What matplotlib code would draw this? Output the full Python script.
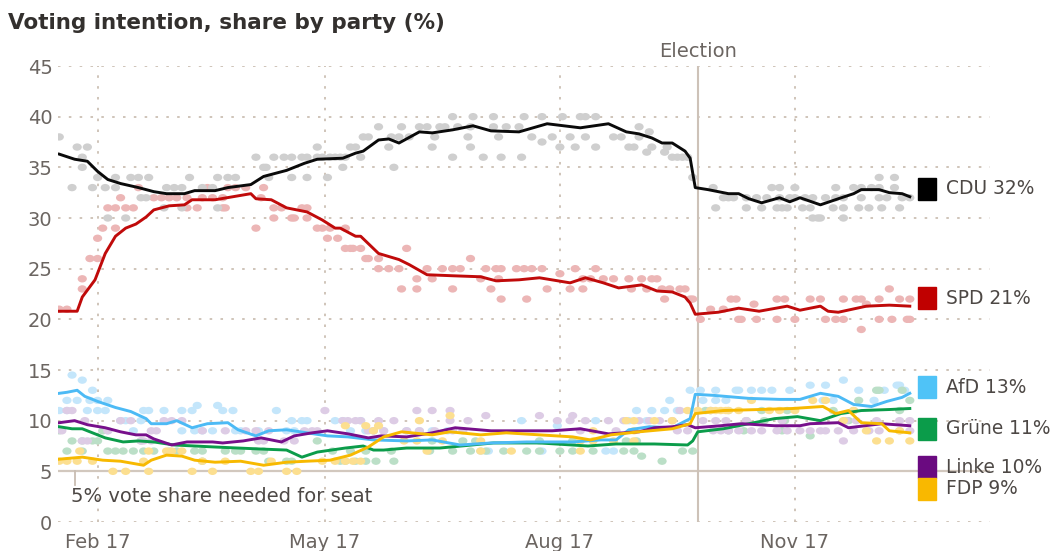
import numpy as np
import matplotlib
matplotlib.use("Agg")
import matplotlib.pyplot as plt
import matplotlib.dates as mdates
import matplotlib.transforms as mtransforms
from matplotlib.path import Path
from matplotlib.patches import Rectangle

# ---------------- data (days since 1 Jan 2017) ----------------
cdu_days = [16,22,27,31,35,40,47,53,58,65,69,77,82,91,96,105,112,117,127,132,135,141,145,149,157,162,170,178,185,196,207,220,231,238,243,248,252,256,261,263,265,270,278,282,286,291,298,302,306,314,321,327,330,337,341,346,349]
cdu_line = [36.3,35.8,35.6,34.6,33.8,33.4,33.0,32.6,32.4,32.4,32.7,32.7,33.0,33.3,34.1,34.7,35.4,35.8,35.9,36.4,36.6,37.7,37.8,37.4,38.5,38.4,38.7,39.1,38.6,38.5,39.3,38.9,39.3,38.5,38.3,37.9,37.4,37.4,36.6,35.9,33.0,32.8,32.4,32.4,31.9,31.5,32.0,31.6,32.0,31.3,31.9,32.4,32.8,32.8,32.5,32.4,32.1]

spd_days = [16,23,25,30,34,38,42,46,50,53,59,65,68,77,84,91,93,99,105,113,119,124,126,132,134,141,149,153,160,170,181,187,196,204,216,222,229,235,244,250,256,259,261,263,265,274,282,290,301,306,314,317,321,332,341,349]
spd_line = [20.8,20.8,22.2,23.9,26.5,28.2,29.0,29.4,30.1,30.8,31.2,31.3,31.8,31.8,32.1,32.4,31.9,31.8,31.0,30.6,29.8,29.0,29.0,28.2,28.2,26.5,25.9,25.4,24.4,24.3,24.2,23.8,23.9,24.1,23.6,24.1,23.6,23.1,23.4,22.8,22.7,22.4,22.2,21.6,20.5,20.7,21.1,20.8,21.3,20.9,21.3,20.8,20.7,21.3,21.4,21.3]

afd_days = [16,19,23,26,31,38,44,50,52,58,62,68,74,82,86,93,98,105,113,121,129,139,152,162,173,185,199,217,228,234,239,247,256,263,265,272,286,298,306,314,321,327,334,340,346,349]
afd_line = [12.7,12.8,13.0,12.4,11.9,11.3,10.9,10.2,9.7,9.7,10.0,9.3,9.7,9.8,9.1,8.5,9.0,9.1,8.8,8.5,8.4,8.1,8.0,8.1,7.6,7.8,7.9,7.9,8.1,8.1,9.1,9.4,9.3,10.2,12.6,12.5,12.2,12.1,12.1,12.7,12.4,11.6,11.4,11.9,12.3,12.7]

linke_days = [16,22,27,34,40,46,50,53,60,66,76,80,88,95,103,108,115,121,129,137,142,152,162,171,185,198,209,220,231,243,249,256,262,265,275,283,296,306,310,321,325,338,349]
linke_line = [9.8,10.0,9.6,9.3,8.9,8.6,8.6,8.2,7.6,7.9,7.9,7.8,8.0,8.3,7.9,8.5,8.8,9.0,8.7,8.3,8.5,8.4,8.8,9.3,9.0,9.0,9.0,9.2,8.7,8.9,9.3,9.4,9.6,9.3,9.5,9.7,9.5,9.5,9.7,9.8,9.3,9.7,9.5]

gruene_days = [16,21,25,29,34,41,47,53,61,69,77,86,95,105,111,117,128,135,139,143,152,165,186,204,223,234,249,262,264,266,276,286,296,305,314,322,330,341,349]
gruene_line = [9.4,9.2,9.2,8.8,8.3,7.9,8.0,7.9,7.6,7.5,7.4,7.3,7.2,7.1,6.4,6.9,7.3,7.5,7.1,7.1,7.3,7.3,7.8,7.8,7.5,7.7,7.7,7.6,8.0,8.9,9.2,9.7,10.2,10.4,10.0,10.7,11.0,11.1,11.2]

fdp_days = [16,25,33,40,49,52,58,64,69,77,87,96,105,113,122,130,137,143,150,162,169,181,191,204,217,224,232,243,256,263,265,276,290,303,315,320,325,330,338,341,349]
fdp_line = [6.2,6.4,6.1,6.0,5.6,6.1,6.6,6.5,6.1,5.9,6.0,5.6,5.9,6.0,6.1,6.6,7.4,8.4,8.9,8.6,8.9,8.6,8.8,8.6,8.4,8.1,8.6,8.9,9.2,9.7,10.7,11.0,11.1,11.2,11.4,10.7,11.0,9.8,9.7,9.0,8.8]

# individual polls (day, value)
cdu_polls = [(16,38),(23,37),(27,37),(25,36),(25,35),(21,33),(29,33),(31,34),(34,33),(38,34),(38,33),(35,30),(42,30),(44,34),(47,34),(51,34),(48,32),(50,32),(57,31),(58,33),(61,33),(64,33),(64,31),(67,34),(72,33),(76,33),(78,34),(82,34),(85,34),(78,31),(93,36),(96,35),(97,35),(100,36),(98,34),(104,36),(107,36),(111,36),(113,36),(117,36),(119,36),(124,36),(107,34),(113,34),(121,34),(117,37),(130,37),(127,35),
             (170,40),(178,40),(186,40),(198,40),(205,40),(213,40),(220,40),(222,40),(226,40),
             (141,39),(150,39),(157,39),(160,39),(165,39),(167,39),(172,39),(177,39),(186,39),(191,39),(196,39),
             (135,38),(137,38),(146,38),(149,38),(153,38),(163,38),(176,38),(188,38),(201,38),(209,38),(216,38),(222,38),(233,38),(236,38),(243,38),(205,37.5),(247,38.5),
             (132,37),(145,37),(162,37),(177,37),(212,37),(218,37),(226,37),(239,37),(241,37),(248,37),(254,37),(246,36.5),(253,36.5),
             (122,36),(126,36),(128,36),(134,36),(170,36),(182,36),(189,36),(197,36),(256,36),(258,36),(260,36),(262,36),
             (147,35),(264,34),(243,39),
             (272,33),(295,33),(298,33),(304,33),(320,33),(327,33),(330,33),(334,33),(337,33),(343,33),(337,34),(343,34),
             (276,32),(278,32),(280,32),(285,32),(289,32),(293,32),(298,32),(302,32),(304,32),(308,32),(311,32),(316,32),(320,32),(323,32),(330,32),(337,32),(340,32),(346,32),(349,32),
             (273,31),(285,31),(291,31),(297,31),(299,31),(301,31),(307,31),(310,31),(319,31),(323,31),(329,31),(333,31),(338,31),(345,31),
             (311,30),(313,30),(314,30),(323,30)]

spd_polls = [(16,21),(19,21),(25,23),(25,24),(28,26),(31,26),(31,28),(33,29),(38,29),(35,31),(38,31),(40,32),(42,31),(45,31),(47,33),(53,32),(56,32),(59,32),(62,32),(66,32),(72,32),(76,32),(80,32),(66,31),(70,31),(80,31),(81,31),(74,33),(82,33),(85,33),(89,33),(93,29),(95,32),(96,33),(100,31),(103,31),(100,30),(107,30),(111,31),(113,31),(108,30),(113,30),(117,29),(119,29),(121,28),(125,28),(128,29),(128,27),(130,27),
             (122,29),(131,27),(134,27),(136,26),(137,26),(141,26),(141,25),(145,25),(149,25),(152,27),(150,23),(156,23),(156,24),(162,24),(160,25),(166,25),(170,25),(173,25),(170,23),(177,26),(183,25),(187,25),(189,25),(195,25),(198,25),(201,25),(205,25),(181,24),(188,24),(185,23),(189,22),(199,22),(207,23),(216,23),(221,23),(212,24.5),(218,25),(226,25),(221,24),(224,24),(229,24),(233,24),(239,24),(244,24),(248,24),(250,24),(240,23),(246,23),(252,23),(255,23),(259,23),(261,23),(253,22),
             (263,22),(264,22),(267,20),(271,21),(276,21),(279,22),(281,22),(282,20),(283,20),(288,21.5),(289,20),(297,22),(300,22),(297,20),(304,20),(310,22),(314,22),(316,20),(320,20),(323,22),(328,22),(330,22),(323,20),(330,19),(332,21.5),(337,22),(341,23),(345,22),(349,22),(337,20),(342,20),(348,20),(349,20)]

afd_polls = [(21,14.5),(25,14),(19,12),(23,12),(29,13),(16,11),(19,11),(28,12),(31,12),(35,12),(27,11),(31,11),(34,11),(49,11),(51,11),(57,11),(64,11),(68,11),(70,11.5),(78,11.5),(80,11),(84,11),(101,11),(40,10),(42,10),(48,10),(35,9),(45,9),(64,9),(69,9),(72,9),(76,9),(85,9),(87,9),(94,9),(107,10),(111,10),(113,10),(105,9),(108,9),(124,10),(130,9),(136,9),
             (127,10),(134,10),(139,9),(143,9),(152,9),(157,9),(162,9),(168,9),(197,10),(211,9.5),(181,7),(184,7),(205,7),(226,10),(230,7),(233,7),(239,10),(246,10),(242,11),(248,11),(253,11),(258,11),(255,12),(263,13),
             (267,13),(273,13),(281,13),(268,12),(273,12),(277,12),(282,13),(287,13),(291,13),(295,13),(302,13),(310,13.5),(316,13.5),(323,14),(329,13),(335,12),(339,13),(345,13.5),(347,13),(315,12),(319,12),(344,13.5)]

linke_polls = [(19,11),(21,11),(17,9),(26,10),(25,8),(27,8),(35,9),(40,10),(44,10),(57,10),(60,10),(64,10),(52,9),(54,9),(48,8),(49,8),(52,8),(72,9),(81,9),(89,9),(93,9),(98,9),(94,8),(96,8),(104,8),(108,8),(112,9),(115,9),(117,9),(120,11),(127,10),(129,10),(132,10),(134,10),(137,9),(139,9),(143,9),
               (156,11),(162,11),(169,11),(169,10),(176,10),(183,10.5),(141,10),(147,10),(152,9),(157,9),(163,9),(170,9),(174,9),(204,10.5),(211,10),(216,10),(217,10.5),(222,10),(231,10),(237,10),(243,10),(247,10),(251,10),(256,10),(258,9),(262,9),(259,11),(271,11),(220,9),(234,9),(275,9),(278,9),
               (268,10),(273,10),(277,10),(272,9),(282,9),(287,9),(291,9),(297,9),(301,9),(306,9),(310,9),(314,9),(316,9),(321,9),(327,9),(333,9),(337,9),(345,9),(349,9),(324,10),(328,10),(336,10),(345,10),(349,10),(323,8),(285,10),(299,10)]

gruene_polls = [(16,9),(21,8),(25,8),(29,8),(19,7),(25,7),(31,8),(33,9),(48,8),(35,7),(38,7),(41,7),(45,7),(49,7),(53,7),(59,7),(62,7),(69,7),(72,7),(81,7),(85,7),(87,7),(72,6),(93,7),(96,7),(98,6),(105,6),(107,6),(117,8),(123,7),(128,6),(132,6),(140,6),
                (130,7),(136,7),(146,7),(126,6),(136,6),(147,6),(161,7),(170,7),(177,7),(183,7),(190,7),(162,8),(174,8),(179,8),(199,7),(204,7),(212,7),(217,7),(225,7),(237,7),(241,7),(204,8),(217,8),(238,8),(242,8),(244,6.5),(252,6),(260,7),(264,7),
                (269,11),(271,11),(278,9),(278,11),(284,9),(299,9),(310,8.5),(329,12),(337,13),(349,12),(345,11),(291,11),(301,11),(319,11),(327,11),(325,10),(336,13),(346,13),(292,10),(300,10),(285,10)]

fdp_polls = [(16,6),(19,6),(24,7),(23,6),(29,6),(37,5),(42,5),(49,6),(51,5),(51,7),(58,7),(60,7),(64,7),(68,5),(72,6),(76,5),(81,6),(91,5),(94,5),(99,6),(105,5),(109,5),(119,6),(124,6),(139,9),(141,9.5),
             (128,9.5),(136,9.5),(157,10),(169,10.5),(128,6),(131,6),(134,6),(151,8),(156,8),(166,8),(181,8),(160,7),(181,7),(193,7),(220,7),(238,10),(241,10),(249,10),(256,10),(220,8),(225,8),(233,8),(241,8),(225,9),(241,9),(262,11),(266,11),
             (271,11),(273,11),(275,11),(277,11),(282,11),(278,11),(294,11),(311,12),(316,12),(323,10),(327,11),(332,9),(336,8),(341,8),(349,8),(345,9),(287,12),(298,11),(304,11)]

parties = ["CDU", "SPD", "AfD", "Grüne", "Linke", "FDP"]
latest = [32, 21, 13, 11, 10, 9]
label_y = [32.9, 22.1, 13.3, 9.2, 5.4, 3.3]

month_ticks = ["2017-02-01", "2017-05-01", "2017-08-01", "2017-11-01"]
month_labels = ["Feb 17", "May 17", "Aug 17", "Nov 17"]
y_ticks = [0, 5, 10, 15, 20, 25, 30, 35, 40, 45]
election_date = "2017-09-24"

# ---------------- styling ----------------
line_colors = {"CDU": "#0a0a0a", "SPD": "#c00a0a", "AfD": "#4cbaf5", "Grüne": "#0b9c4a", "Linke": "#770f8b", "FDP": "#f7b900"}
dot_colors = {"CDU": "#cfcfcf", "SPD": "#ecb6b6", "AfD": "#c4e6fb", "Grüne": "#bbdfc7", "Linke": "#ddcce5", "FDP": "#fcdf90"}
square_colors = {"CDU": "#000000", "SPD": "#c00000", "AfD": "#4fc3f7", "Grüne": "#0b9c4a", "Linke": "#6a0a80", "FDP": "#f9b800"}

BASE = np.datetime64("2017-01-01")


def to_dates(days):
    return BASE + np.array(days, dtype=float).round().astype("timedelta64[D]")


plt.rcParams["font.family"] = ["DejaVu Sans"]
fig = plt.figure(figsize=(10.54, 5.51), dpi=100)
ax = fig.add_axes([58 / 1054, 1 - 522 / 551, (990 - 58) / 1054, (522 - 66) / 551])

# ellipse marker (dots appear slightly wider than tall)
circ = Path.unit_circle()
ell = Path(circ.vertices * np.array([1.25, 1.0]), circ.codes)

series = {
    "CDU": (cdu_days, cdu_line, cdu_polls),
    "SPD": (spd_days, spd_line, spd_polls),
    "AfD": (afd_days, afd_line, afd_polls),
    "Grüne": (gruene_days, gruene_line, gruene_polls),
    "Linke": (linke_days, linke_line, linke_polls),
    "FDP": (fdp_days, fdp_line, fdp_polls),
}

# dots
for name in ["AfD", "Grüne", "Linke", "FDP", "SPD", "CDU"]:
    d, v, polls = series[name]
    pdays = [p[0] for p in polls]
    pvals = [p[1] for p in polls]
    ax.scatter(to_dates(pdays), pvals, s=44, marker=ell, color=dot_colors[name],
               edgecolors="none", zorder=2)

# lines
z = {"Grüne": 4, "AfD": 4.1, "Linke": 4.2, "FDP": 4.3, "SPD": 4.5, "CDU": 4.6}
for name in ["Grüne", "AfD", "Linke", "FDP", "SPD", "CDU"]:
    d, v, polls = series[name]
    ax.plot(to_dates(d), v, color=line_colors[name], lw=2.1, zorder=z[name],
            solid_joinstyle="round")

# axes limits
x0 = mdates.date2num(BASE)
ax.set_xlim(x0 + 15.5, x0 + 380.4)
ax.set_ylim(0, 45)

# grid
grid_color = "#cbbfb3"
ax.set_yticks(y_ticks)
ax.set_xticks([mdates.date2num(np.datetime64(t)) for t in month_ticks])
ax.set_xticklabels(month_labels)
ax.grid(True, color=grid_color, linestyle=(0, (1.4, 4.6)), lw=1.3, zorder=0)
ax.set_axisbelow(True)
for s in ax.spines.values():
    s.set_visible(False)
ax.tick_params(axis="both", length=0, labelsize=14, labelcolor="#6b6561")
ax.tick_params(axis="y", pad=4)
ax.tick_params(axis="x", pad=8)

# 5% threshold line
ax.axhline(5, color="#d2c8be", lw=1.6, zorder=1.5)
tick_day = mdates.date2num(BASE) + 22
ax.plot([tick_day, tick_day], [5, 3.7], color="#c9bdb2", lw=1.3, zorder=1.5, clip_on=False)
ax.text(x0 + 20.5, 2.55, "5% vote share needed for seat", fontsize=14,
        color="#4d4845", ha="left", va="center")

# election line
ed = mdates.date2num(np.datetime64(election_date))
ax.axvline(ed, color="#cdc2b8", lw=1.5, zorder=1.6)
ax.text(ed, 46.4, "Election", fontsize=14, color="#6b6561", ha="center", va="center", clip_on=False)

# right labels
trans = mtransforms.blended_transform_factory(ax.transAxes, ax.transData)
for name, val, yc in zip(parties, latest, label_y):
    ax.add_patch(Rectangle((0.9227, yc - 1.08), 0.0193, 2.16, transform=trans,
                           color=square_colors[name], clip_on=False, zorder=6))
    ax.text(0.9529, yc, f"{name} {val}%", transform=trans, fontsize=13.4,
            color="#4d4845", ha="left", va="center")

# title
fig.text(8 / 1054, 1 - 23 / 551, "Voting intention, share by party (%)", fontsize=15.5,
         fontweight="bold", color="#33302e", ha="left", va="center")

fig.savefig("out.png", dpi=100, facecolor="white")
